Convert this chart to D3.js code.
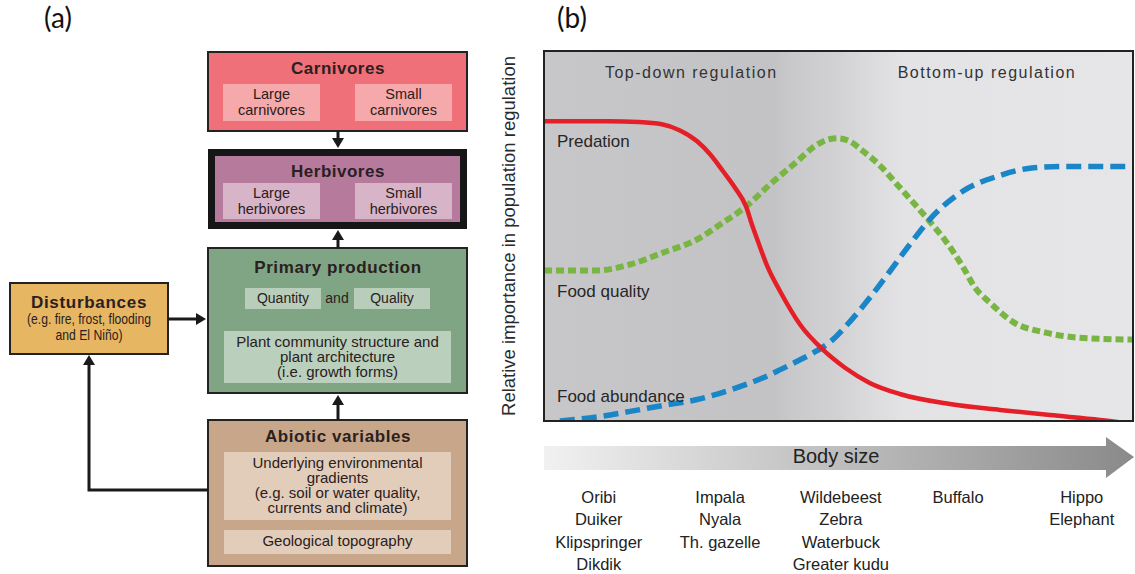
<!DOCTYPE html>
<html>
<head>
<meta charset="utf-8">
<script src="https://cdn.jsdelivr.net/npm/d3@7"></script>
<style>
  body { margin: 0; background: #fff; }
  svg { display: block; }
  text { font-family: "Liberation Sans", Arial, sans-serif; }
</style>
</head>
<body>
<svg id="fig" width="1135" height="574"></svg>
<script>
// ---- panel (b) data: body size (0-100) vs relative importance (0-100) ----
var predation = [[0, 81], [11, 81], [16, 80.8], [20, 80.2], [23, 78.6], [26, 75.6], [28.2, 72.1],
  [30.4, 67.5], [32.4, 63.1], [34.3, 58], [35.3, 53.1], [36.2, 49.1], [38, 41.5], [40.1, 35],
  [43.5, 26], [47.4, 19.2], [51.1, 14.4], [55.3, 10.3], [60.4, 7.3], [68.9, 4.6], [77.4, 3],
  [85.9, 1.6], [94.4, 0.3], [100, -0.8]];
var foodQuality = [[0, 40.7], [9, 40.7], [14.6, 42.3], [20.2, 45.5], [26, 49.1], [29.9, 53.1],
  [34.3, 58], [38.4, 64], [43, 70.2], [46, 74.3], [48.6, 76.2], [49.9, 76.4], [51.9, 75.6],
  [54.2, 72.9], [57, 69.1], [59.9, 64], [63, 58.5], [65.5, 53.9], [68.4, 48.2], [71.1, 41.7],
  [73.2, 36], [75.7, 32], [79.6, 26.8], [85.4, 23.8], [91, 22.5], [100, 22]];
var foodAbundance = [[2.7, 0], [9.5, 1.2], [14.6, 2.6], [20.2, 4.2], [26, 5.8], [31.6, 8.4],
  [37.2, 11.7], [41.8, 15.2], [45.7, 18.4], [48.6, 21.4], [51.9, 26.8], [55.3, 33.3],
  [58.7, 40.4], [62.1, 47.7], [65.5, 54.5], [71.1, 62.1], [76.9, 66.1], [82.5, 68.3],
  [88.1, 68.8], [100, 68.8]];

var regimeLabels = ["Top-down regulation", "Bottom-up regulation"];
var regimePos = [25, 75.2];
var curveLabels = ["Predation", "Food quality", "Food abundance"];
var curveLabelY = [74, 33.6, 5.1];
var animalGroups = [
  ["Oribi", "Duiker", "Klipspringer", "Dikdik"],
  ["Impala", "Nyala", "Th. gazelle"],
  ["Wildebeest", "Zebra", "Waterbuck", "Greater kudu"],
  ["Buffalo"],
  ["Hippo", "Elephant"]
];
var groupPos = [9.3, 29.9, 50.4, 70.3, 91.3];

// ---- panel (a) texts ----
var carnivoreParts = [["Large", "carnivores"], ["Small", "carnivores"]];
var herbivoreParts = [["Large", "herbivores"], ["Small", "herbivores"]];
var plantLines = ["Plant community structure and", "plant architecture", "(i.e. growth forms)"];
var gradientLines = ["Underlying environmental", "gradients", "(e.g. soil or water quality,", "currents and climate)"];
var disturbLines = ["(e.g. fire, frost, flooding", "and El Niño)"];

var svg = d3.select("#fig");
var ink = "#2a2020";

// panel letters
svg.append("text").attr("x", 58).attr("y", 28).attr("text-anchor", "middle")
  .style("font-family", "Lato, 'Open Sans', sans-serif").style("font-size", "28px").attr("fill", "#111").text("(a)");
svg.append("text").attr("x", 572).attr("y", 28).attr("text-anchor", "middle")
  .style("font-family", "Lato, 'Open Sans', sans-serif").style("font-size", "28px").attr("fill", "#111").text("(b)");

// ================= panel (a) =================
var ga = svg.append("g");

function rect(x, y, w, h, fill, stroke) {
  ga.append("rect").attr("x", x).attr("y", y).attr("width", w).attr("height", h)
    .attr("fill", fill).attr("stroke", stroke || "none").attr("stroke-width", stroke ? 2 : 0);
}
function label(txt, x, y, size, bold, spacing, len) {
  var t = ga.append("text").attr("x", x).attr("y", y).attr("text-anchor", "middle")
    .attr("fill", ink).style("font-size", size + "px")
    .style("font-weight", bold ? "bold" : "normal")
    .style("letter-spacing", (spacing || 0) + "px").text(txt);
  if (len) t.attr("textLength", len).attr("lengthAdjust", "spacingAndGlyphs");
}
function arrow(pts, tip, dir) {
  ga.append("path").attr("d", d3.line()(pts)).attr("fill", "none")
    .attr("stroke", "#1a1a1a").attr("stroke-width", 3);
  var L = 10, W = 6, x = tip[0], y = tip[1], p;
  if (dir === "down") p = [[x, y], [x - W, y - L], [x + W, y - L]];
  if (dir === "up") p = [[x, y], [x - W, y + L], [x + W, y + L]];
  if (dir === "right") p = [[x, y], [x - L, y - W], [x - L, y + W]];
  ga.append("path").attr("d", d3.line()(p) + "Z").attr("fill", "#1a1a1a");
}

// Carnivores
rect(208, 52, 259, 79, "#ef7078", "#222");
label("Carnivores", 338, 74, 17, true, 0.5);
[223, 355].forEach(function (x, i) {
  rect(x, 84, 97, 37, "#f6a9aa");
  label(carnivoreParts[i][0], x + 48.5, 99, 14.5);
  label(carnivoreParts[i][1], x + 48.5, 115, 14.5);
});

// Herbivores (thick frame)
rect(208, 149, 259, 80, "#161616");
rect(215, 156, 245, 66, "#b67b9c");
label("Herbivores", 338, 177, 17, true, 0.5);
[223, 355].forEach(function (x, i) {
  rect(x, 183, 97, 36, "#d8b4c8");
  label(herbivoreParts[i][0], x + 48.5, 197.5, 14.5);
  label(herbivoreParts[i][1], x + 48.5, 213.5, 14.5);
});

// Primary production
rect(208, 248, 259, 145, "#80a585", "#222");
label("Primary production", 338, 273, 17, true, 0.6);
rect(245, 288, 76, 21, "#b8cdba");
rect(354, 288, 76, 21, "#b8cdba");
label("Quantity", 283, 303, 14);
label("and", 337, 303, 14);
label("Quality", 392, 303, 14);
rect(224, 331, 227, 52, "#bacfbc");
plantLines.forEach(function (s, i) { label(s, 337.5, 347 + i * 15, 15); });

// Abiotic variables
rect(208, 420, 259, 146, "#c8a68a", "#222");
label("Abiotic variables", 338, 442, 17, true, 0.6);
rect(224, 452, 227, 68, "#e2cdbb");
gradientLines.forEach(function (s, i) { label(s, 337.5, 468 + i * 15, 15); });
rect(224, 530, 227, 24, "#e2cdbb");
label("Geological topography", 337.5, 546, 15);

// Disturbances
rect(10, 283, 158, 71, "#e7b662", "#222");
label("Disturbances", 89, 308, 17, true, 0.7);
label(disturbLines[0], 89, 324, 14, false, 0, 124);
label(disturbLines[1], 89, 340, 14, false, 0, 67);

// arrows
arrow([[338, 131], [338, 140]], [338, 148], "down");
arrow([[338, 248], [338, 238]], [338, 230], "up");
arrow([[338, 420], [338, 403]], [338, 395], "up");
arrow([[168, 319], [197, 319]], [206, 319], "right");
arrow([[208, 490], [89, 490], [89, 364]], [89, 355], "up");

// ================= panel (b) =================
var pL = 544, pR = 1133, pT = 51, pB = 421;
var x = d3.scaleLinear().domain([0, 100]).range([pL, pR]);
var y = d3.scaleLinear().domain([0, 100]).range([pB, pT]);

var defs = svg.append("defs");
var bg = defs.append("linearGradient").attr("id", "bgGrad")
  .attr("gradientUnits", "userSpaceOnUse").attr("x1", pL).attr("x2", pR).attr("y1", 0).attr("y2", 0);
[[0, "#c7c7c9"], [0.39, "#c3c3c5"], [0.42, "#c9c9cb"], [0.5, "#d2d2d4"], [0.54, "#d9d9db"],
 [0.61, "#e3e3e5"], [1, "#e6e6e8"]].forEach(function (s) {
  bg.append("stop").attr("offset", s[0]).attr("stop-color", s[1]);
});
var ag = defs.append("linearGradient").attr("id", "arrowGrad")
  .attr("gradientUnits", "userSpaceOnUse").attr("x1", pL).attr("x2", pR).attr("y1", 0).attr("y2", 0);
ag.append("stop").attr("offset", 0).attr("stop-color", "#f1f1f1");
ag.append("stop").attr("offset", 1).attr("stop-color", "#8a8a8a");
defs.append("clipPath").attr("id", "plotClip").append("rect")
  .attr("x", pL).attr("y", pT).attr("width", pR - pL).attr("height", pB - pT);

var gb = svg.append("g");
gb.append("rect").attr("x", pL).attr("y", pT).attr("width", pR - pL)
  .attr("height", pB - pT).attr("fill", "url(#bgGrad)");

gb.selectAll(".regime").data(regimeLabels).enter().append("text")
  .attr("x", function (d, i) { return x(regimePos[i]); }).attr("y", 78)
  .attr("text-anchor", "middle").attr("fill", "#333")
  .style("font-size", "16px").style("letter-spacing", "1.5px").text(function (d) { return d; });

var line = d3.line().x(function (d) { return x(d[0]); }).y(function (d) { return y(d[1]); })
  .curve(d3.curveMonotoneX);
var curves = gb.append("g").attr("clip-path", "url(#plotClip)");
curves.append("path").datum(foodQuality).attr("d", line).attr("fill", "none")
  .attr("stroke", "#78b543").attr("stroke-width", 6).attr("stroke-dasharray", "8,4");
curves.append("path").datum(foodAbundance).attr("d", line).attr("fill", "none")
  .attr("stroke", "#1a86c8").attr("stroke-width", 5.5).attr("stroke-dasharray", "15,7");
curves.append("path").datum(predation).attr("d", line).attr("fill", "none")
  .attr("stroke", "#e51f28").attr("stroke-width", 4.5);

gb.selectAll(".clabel").data(curveLabels).enter().append("text")
  .attr("x", 557).attr("y", function (d, i) { return y(curveLabelY[i]); })
  .attr("fill", "#262626").style("font-size", "17px").text(function (d) { return d; });

gb.append("rect").attr("x", pL).attr("y", pT).attr("width", pR - pL)
  .attr("height", pB - pT).attr("fill", "none").attr("stroke", "#222").attr("stroke-width", 2);

gb.append("text").attr("transform", "translate(515," + ((pT + pB) / 2) + ") rotate(-90)")
  .attr("text-anchor", "middle").attr("fill", "#2a2a2a").style("font-size", "18.5px")
  .text("Relative importance in population regulation");

// body size arrow
var headX = 1106;
gb.append("path").attr("d", d3.line()([[pL, 446], [headX, 446], [headX, 437], [1134, 457],
  [headX, 478], [headX, 470], [pL, 470]]) + "Z").attr("fill", "url(#arrowGrad)");
gb.append("text").attr("x", 836).attr("y", 463).attr("text-anchor", "middle")
  .attr("fill", "#222").style("font-size", "20px").text("Body size");

var groups = gb.selectAll(".grp").data(animalGroups).enter().append("text")
  .attr("text-anchor", "middle").attr("fill", "#222").style("font-size", "16.5px");
groups.selectAll("tspan").data(function (d, i) {
  return d.map(function (s) { return { s: s, i: i }; });
}).enter().append("tspan")
  .attr("x", function (d) { return x(groupPos[d.i]); })
  .attr("y", function (d, j) { return 503 + j * 22.4; })
  .text(function (d) { return d.s; });
</script>
</body>
</html>
